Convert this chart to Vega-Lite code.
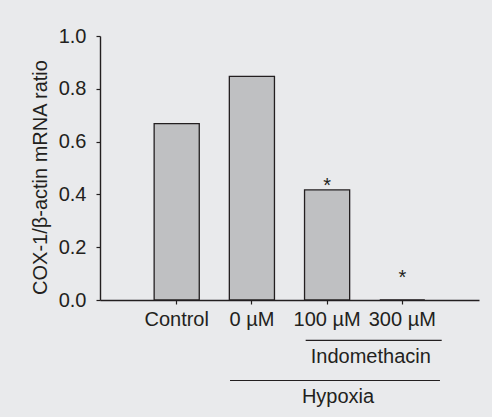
{
  "$schema": "https://vega.github.io/schema/vega-lite/v6.json",
  "autosize": {"type": "none"},
  "padding": {"left": 100, "top": 36, "right": 13, "bottom": 117},
  "width": 379,
  "height": 264,
  "background": "#e9eaec",
  "config": {
    "font": "Liberation Sans",
    "view": {"stroke": null},
    "axis": {
      "grid": false,
      "domainColor": "#231f20",
      "domainWidth": 1.4,
      "tickColor": "#231f20",
      "tickWidth": 1.2,
      "tickSize": 4,
      "labelFont": "Liberation Sans",
      "labelFontSize": 20,
      "labelColor": "#231f20",
      "titleFont": "Liberation Sans",
      "titleFontSize": 20,
      "titleFontWeight": "normal",
      "titleColor": "#231f20"
    }
  },
  "datasets": {
    "bars": [
      {"group": "Control", "value": 0.668},
      {"group": "0 µM", "value": 0.847},
      {"group": "100 µM", "value": 0.417},
      {"group": "300 µM", "value": 0}
    ],
    "stars": [
      {"group": "100 µM", "pos": 0.408, "label": "*"},
      {"group": "300 µM", "pos": 0.062, "label": "*"}
    ],
    "brackets": [
      {"name": "Indomethacin", "start": 2.735, "end": 4.544, "pos": -0.153},
      {"name": "Hypoxia", "start": 1.729, "end": 4.521, "pos": -0.305}
    ],
    "bracketLabels": [
      {"name": "Indomethacin", "center": 3.601, "pos": -0.237},
      {"name": "Hypoxia", "center": 3.165, "pos": -0.392}
    ]
  },
  "resolve": {"scale": {"x": "independent"}},
  "layer": [
    {
      "data": {"name": "bars"},
      "layer": [
        {
          "mark": {"type": "bar", "fill": "#bfc0c2", "stroke": "#231f20", "strokeWidth": 1.3},
          "encoding": {
            "x": {
              "field": "group", "type": "nominal", "sort": null,
              "scale": {"paddingInner": 0.4, "paddingOuter": 0.72},
              "axis": {"title": null, "labelAngle": 0, "labelPadding": 5}
            },
            "y": {
              "field": "value", "type": "quantitative",
              "scale": {"domain": [0, 1], "nice": false, "zero": true},
              "axis": {
                "title": "COX-1/β-actin mRNA ratio",
                "values": [0, 0.2, 0.4, 0.6, 0.8, 1.0],
                "format": ".1f",
                "labelPadding": 10,
                "titleX": -50,
                "titleY": 141
              }
            }
          }
        },
        {
          "data": {"name": "stars"},
          "mark": {"type": "text", "fontSize": 20, "color": "#231f20", "baseline": "alphabetic", "align": "center"},
          "encoding": {
            "x": {"field": "group", "type": "nominal", "sort": ["Control", "0 µM", "100 µM", "300 µM"]},
            "y": {"field": "pos", "type": "quantitative"},
            "text": {"field": "label"}
          }
        }
      ]
    },
    {
      "layer": [
        {
          "data": {"name": "brackets"},
          "mark": {"type": "rule", "color": "#231f20", "strokeWidth": 1.1},
          "encoding": {
            "x": {"field": "start", "type": "quantitative", "scale": {"domain": [0, 5.04], "nice": false, "zero": false}, "axis": null},
            "x2": {"field": "end"},
            "y": {"field": "pos", "type": "quantitative"}
          }
        },
        {
          "data": {"name": "bracketLabels"},
          "mark": {"type": "text", "fontSize": 20, "color": "#231f20", "baseline": "alphabetic", "align": "center"},
          "encoding": {
            "x": {"field": "center", "type": "quantitative"},
            "y": {"field": "pos", "type": "quantitative"},
            "text": {"field": "name"}
          }
        }
      ]
    }
  ]
}
